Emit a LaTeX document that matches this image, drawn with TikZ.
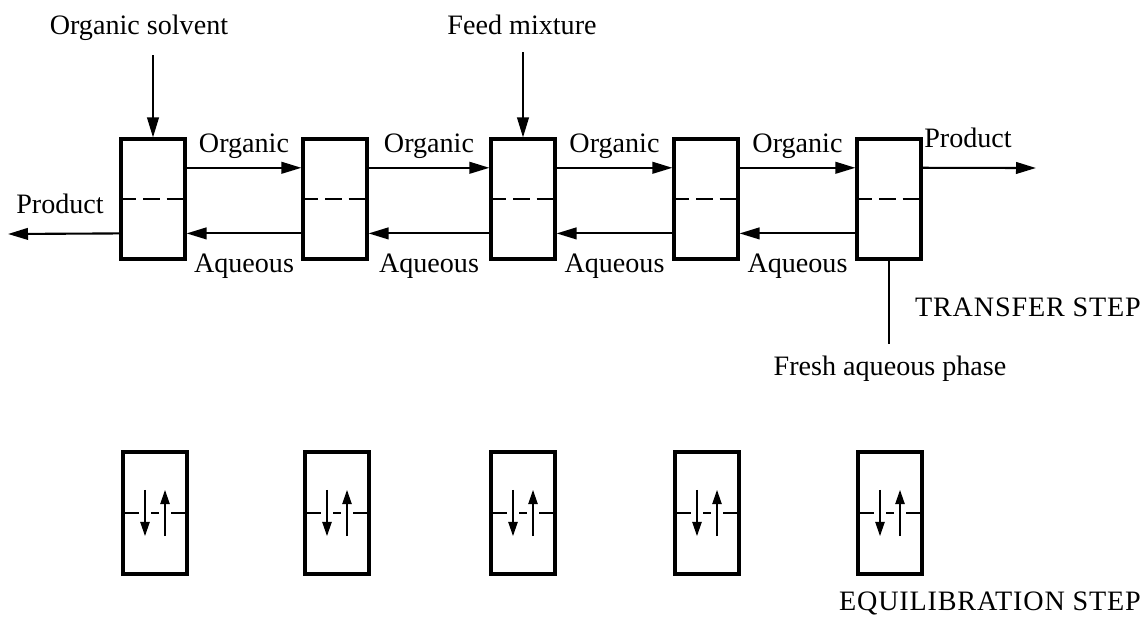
\documentclass[tikz,border=0pt]{standalone}
\usepackage{fontspec}
\setmainfont{Liberation Serif}
\usetikzlibrary{arrows.meta, calc}
\tikzstyle{stage} = [rectangle, draw=black, line width=2.2pt, minimum width=1.6cm,
    minimum height=3cm, inner sep=0pt]
\tikzstyle{flow} = [line width=1.5pt, -{Triangle[length=5mm, width=2.9mm]}]
\tikzstyle{mix} = [line width=1.5pt, -{Triangle[length=3.6mm, width=2.3mm]}]
\tikzstyle{interface} = [line width=1.5pt, dash pattern=on 11.8pt off 5pt]
\tikzstyle{part} = [line width=1.5pt]
\tikzstyle{lbl} = [font=\fontsize{20}{24}\selectfont, inner sep=1pt]
\tikzstyle{steplbl} = [font=\fontsize{20}{24}\selectfont\addfontfeature{LetterSpace=3}, inner sep=1pt]

\begin{document}
\begin{tikzpicture}[x=0.025cm, y=-0.025cm]
\useasboundingbox (0,0) rectangle (1146,618);

% --- transfer step: row of stages ---
\node (s1) [stage] at (153,199) {};
\node (s2) [stage] at (335,199) {};
\node (s3) [stage] at (523,199) {};
\node (s4) [stage] at (706,199) {};
\node (s5) [stage] at (889,199) {};
\draw[interface] (s1.west) -- (s1.east);
\draw[interface] (s2.west) -- (s2.east);
\draw[interface] (s3.west) -- (s3.east);
\draw[interface] (s4.west) -- (s4.east);
\draw[interface] (s5.west) -- (s5.east);

% --- feeds and outlets ---
\node (solvent) [lbl] at (139,28) {Organic solvent};
\node (feed) [lbl] at (522,25) {Feed mixture};
\coordinate (solventin) at (153,55);
\coordinate (feedin) at (523,52);
\coordinate (prodL) at (8,234);
\coordinate (prodR) at (1036,168);
\coordinate (fresh) at (889,344);
\node (productL) [lbl] at (60,204) {Product};
\node (productR) [lbl] at (968,138) {Product};
\node (freshlbl) [lbl] at (890,369) {Fresh aqueous phase};
\node (transfer) [steplbl] at (1028,307) {TRANSFER STEP};

\draw[flow] (solventin) -- (s1.north);
\draw[flow] (feedin) -- (s3.north);
\draw[flow] ([yshift=-0.86cm]s1.west) -- (prodL);
\draw[flow] ([yshift=0.78cm]s5.east) -- (prodR);
\draw[part] (s5.south) -- (fresh);

% --- organic phase moves right ---
\draw[flow] ([yshift=0.78cm]s1.east) -- node[lbl,above=5pt]{Organic} ([yshift=0.78cm]s2.west);
\draw[flow] ([yshift=0.78cm]s2.east) -- node[lbl,above=5pt]{Organic} ([yshift=0.78cm]s3.west);
\draw[flow] ([yshift=0.78cm]s3.east) -- node[lbl,above=5pt]{Organic} ([yshift=0.78cm]s4.west);
\draw[flow] ([yshift=0.78cm]s4.east) -- node[lbl,above=5pt]{Organic} ([yshift=0.78cm]s5.west);

% --- aqueous phase moves left ---
\draw[flow] ([yshift=-0.86cm]s2.west) -- node[lbl,below=13pt]{Aqueous} ([yshift=-0.86cm]s1.east);
\draw[flow] ([yshift=-0.86cm]s3.west) -- node[lbl,below=13pt]{Aqueous} ([yshift=-0.86cm]s2.east);
\draw[flow] ([yshift=-0.86cm]s4.west) -- node[lbl,below=13pt]{Aqueous} ([yshift=-0.86cm]s3.east);
\draw[flow] ([yshift=-0.86cm]s5.west) -- node[lbl,below=13pt]{Aqueous} ([yshift=-0.86cm]s4.east);

% --- equilibration step ---
\node (e1) [stage, minimum height=3.05cm] at (155,513) {};
\node (e2) [stage, minimum height=3.05cm] at (337,513) {};
\node (e3) [stage, minimum height=3.05cm] at (523,513) {};
\node (e4) [stage, minimum height=3.05cm] at (707,513) {};
\node (e5) [stage, minimum height=3.05cm] at (890,513) {};
\node (equil) [steplbl] at (990,603) {EQUILIBRATION STEP};

\draw[part] (e1.west) -- ([xshift=-0.4cm]e1.center) ([xshift=-0.1cm]e1.center) -- ([xshift=0.1cm]e1.center) ([xshift=0.4cm]e1.center) -- (e1.east);
\draw[mix] ([xshift=-0.25cm,yshift=0.58cm]e1.center) -- ([xshift=-0.25cm,yshift=-0.58cm]e1.center);
\draw[mix] ([xshift=0.25cm,yshift=-0.58cm]e1.center) -- ([xshift=0.25cm,yshift=0.58cm]e1.center);
\draw[part] (e2.west) -- ([xshift=-0.4cm]e2.center) ([xshift=-0.1cm]e2.center) -- ([xshift=0.1cm]e2.center) ([xshift=0.4cm]e2.center) -- (e2.east);
\draw[mix] ([xshift=-0.25cm,yshift=0.58cm]e2.center) -- ([xshift=-0.25cm,yshift=-0.58cm]e2.center);
\draw[mix] ([xshift=0.25cm,yshift=-0.58cm]e2.center) -- ([xshift=0.25cm,yshift=0.58cm]e2.center);
\draw[part] (e3.west) -- ([xshift=-0.4cm]e3.center) ([xshift=-0.1cm]e3.center) -- ([xshift=0.1cm]e3.center) ([xshift=0.4cm]e3.center) -- (e3.east);
\draw[mix] ([xshift=-0.25cm,yshift=0.58cm]e3.center) -- ([xshift=-0.25cm,yshift=-0.58cm]e3.center);
\draw[mix] ([xshift=0.25cm,yshift=-0.58cm]e3.center) -- ([xshift=0.25cm,yshift=0.58cm]e3.center);
\draw[part] (e4.west) -- ([xshift=-0.4cm]e4.center) ([xshift=-0.1cm]e4.center) -- ([xshift=0.1cm]e4.center) ([xshift=0.4cm]e4.center) -- (e4.east);
\draw[mix] ([xshift=-0.25cm,yshift=0.58cm]e4.center) -- ([xshift=-0.25cm,yshift=-0.58cm]e4.center);
\draw[mix] ([xshift=0.25cm,yshift=-0.58cm]e4.center) -- ([xshift=0.25cm,yshift=0.58cm]e4.center);
\draw[part] (e5.west) -- ([xshift=-0.4cm]e5.center) ([xshift=-0.1cm]e5.center) -- ([xshift=0.1cm]e5.center) ([xshift=0.4cm]e5.center) -- (e5.east);
\draw[mix] ([xshift=-0.25cm,yshift=0.58cm]e5.center) -- ([xshift=-0.25cm,yshift=-0.58cm]e5.center);
\draw[mix] ([xshift=0.25cm,yshift=-0.58cm]e5.center) -- ([xshift=0.25cm,yshift=0.58cm]e5.center);
\end{tikzpicture}
\end{document}
